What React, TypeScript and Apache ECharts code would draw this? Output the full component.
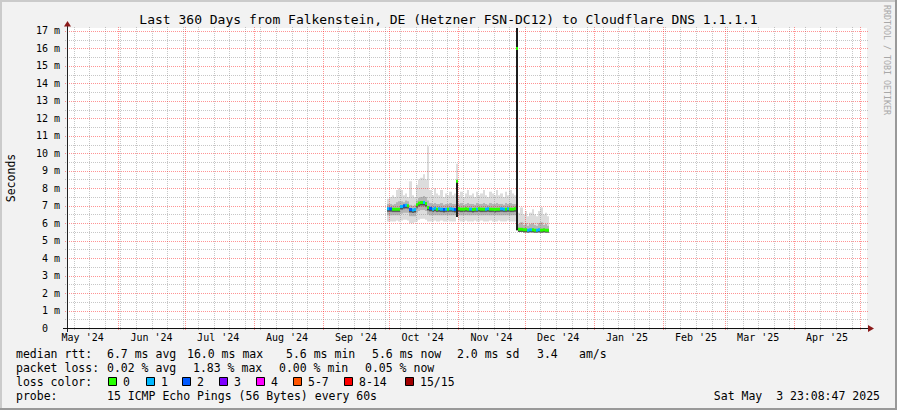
import React, { useEffect, useRef } from "react";
import * as echarts from "echarts";

const DAY = 86400000;
const RANGE_START = Date.UTC(2024, 4, 8, 23, 8, 47);
const RANGE_END = Date.UTC(2025, 4, 3, 23, 8, 47);
const Y_MAX = 17.17;

const monthStarts = ["2024-06-01", "2024-07-01", "2024-08-01", "2024-09-01", "2024-10-01", "2024-11-01", "2024-12-01", "2025-01-01", "2025-02-01", "2025-03-01", "2025-04-01", "2025-05-01"];
const monthLabels = ["May '24", "Jun '24", "Jul '24", "Aug '24", "Sep '24", "Oct '24", "Nov '24", "Dec '24", "Jan '25", "Feb '25", "Mar '25", "Apr '25"];
const monthLabelAt = ["2024-05-16", "2024-06-16", "2024-07-16", "2024-08-16", "2024-09-16", "2024-10-16", "2024-11-16", "2024-12-16", "2025-01-16", "2025-02-16", "2025-03-16", "2025-04-16"];
const firstSunday = "2024-05-12";

// daily smoke data, first day:
const dataStart = "2024-09-30";
const median = [
  6.82, 6.82, 6.8, 6.8, 6.8, 6.8, 6.95, 7.0, 7.02, 7.0,
  6.78, 6.75, 6.78, 7.05, 7.15, 7.18, 7.18, 7.12, 6.9, 6.85,
  6.8, 6.85, 6.8, 6.82, 6.8, 6.78, 6.8, 6.8, 6.82, 6.8,
  6.78, 8.4, 6.82, 6.8, 6.8, 6.82, 6.8, 6.8, 6.78, 6.8,
  6.8, 6.82, 6.8, 6.8, 6.8, 6.82, 6.8, 6.8, 6.78, 6.8,
  6.8, 6.82, 6.8, 6.8, 6.82, 6.8, 6.8, 6.82, 16.0, 5.65,
  5.65, 5.62, 5.62, 5.6, 5.62, 5.62, 5.6, 5.6, 5.62, 5.6,
  5.62, 5.6, 5.6,
];
const lossCount = [
  1, 2, 0, 0, 0, 0, 1, 2, 1, 0,
  2, 1, 1, 0, 0, 0, 1, 0, 0, 2,
  1, 1, 0, 1, 1, 2, 1, 0, 1, 1,
  2, 0, 0, 0, 0, 0, 0, 1, 0, 0,
  1, 0, 0, 0, 1, 1, 0, 0, 0, 0,
  0, 1, 1, 0, 1, 0, 0, 0, 0, 0,
  0, 0, 0, 1, 1, 0, 0, 1, 1, 0,
  0, 0, 0,
];
const smokeMax = [
  7.4, 7.5, 7.6, 7.5, 7.9, 8.0, 7.9, 7.6, 7.7, 7.5,
  8.4, 7.6, 7.5, 8.2, 8.5, 8.6, 8.8, 8.5, 10.4, 7.9,
  7.6, 8.0, 7.7, 7.6, 7.9, 7.5, 7.7, 7.6, 7.8, 7.6,
  7.7, 9.4, 7.6, 7.8, 7.5, 7.7, 7.9, 7.6, 7.7, 7.5,
  7.8, 7.6, 7.7, 7.9, 7.6, 7.5, 7.8, 7.7, 7.6, 7.9,
  7.6, 7.7, 7.5, 7.8, 7.6, 7.9, 7.7, 7.6, 17.3, 6.6,
  6.9, 6.5, 6.7, 6.4, 6.6, 6.8, 6.5, 6.4, 6.7, 6.9,
  6.5, 6.6, 6.4,
];
const smokeUpper = [
  7.1, 7.1, 7.05, 7.1, 7.2, 7.25, 7.25, 7.2, 7.3, 7.25,
  7.05, 7.0, 7.05, 7.3, 7.45, 7.5, 7.55, 7.5, 7.3, 7.15,
  7.1, 7.15, 7.1, 7.1, 7.15, 7.05, 7.1, 7.1, 7.15, 7.1,
  7.1, 8.0, 7.1, 7.15, 7.05, 7.1, 7.15, 7.1, 7.1, 7.05,
  7.15, 7.1, 7.1, 7.15, 7.1, 7.05, 7.15, 7.1, 7.1, 7.15,
  7.1, 7.1, 7.05, 7.15, 7.1, 7.15, 7.1, 7.1, 16.5, 5.95,
  6.05, 5.9, 6.0, 5.85, 5.95, 6.0, 5.9, 5.85, 6.0, 6.05,
  5.9, 5.95, 5.85,
];
const smokeLower = [
  6.45, 6.45, 6.45, 6.45, 6.45, 6.45, 6.55, 6.6, 6.6, 6.6,
  6.4, 6.4, 6.4, 6.6, 6.7, 6.75, 6.75, 6.7, 6.5, 6.45,
  6.45, 6.45, 6.45, 6.45, 6.45, 6.45, 6.45, 6.45, 6.45, 6.45,
  6.45, 6.4, 6.45, 6.45, 6.45, 6.45, 6.45, 6.45, 6.45, 6.45,
  6.45, 6.45, 6.45, 6.45, 6.45, 6.45, 6.45, 6.45, 6.45, 6.45,
  6.45, 6.45, 6.45, 6.45, 6.45, 6.45, 6.45, 6.45, 5.6, 5.55,
  5.55, 5.55, 5.55, 5.55, 5.55, 5.55, 5.55, 5.55, 5.55, 5.55,
  5.55, 5.55, 5.55,
];
const smokeMin = [
  6.1, 6.1, 6.1, 6.1, 6.15, 6.1, 6.15, 6.2, 6.2, 6.15,
  6.0, 6.0, 6.05, 6.1, 6.2, 6.25, 6.25, 6.2, 6.1, 6.1,
  6.1, 6.15, 6.1, 6.1, 6.15, 6.1, 6.1, 6.15, 6.1, 6.1,
  6.1, 6.35, 6.15, 6.1, 6.1, 6.15, 6.1, 6.1, 6.1, 6.15,
  6.1, 6.1, 6.15, 6.1, 6.1, 6.1, 6.15, 6.1, 6.1, 6.1,
  6.15, 6.1, 6.1, 6.1, 6.15, 6.1, 6.1, 6.1, 5.6, 5.5,
  5.5, 5.5, 5.5, 5.5, 5.5, 5.5, 5.5, 5.5, 5.5, 5.5,
  5.5, 5.5, 5.5,
];
// dense (dark) smoke columns
const denseDates = ["2024-10-31", "2024-11-27"];
const denseLo = [6.35, 5.6];
const denseHi = [8.4, 17.3];

const lossColors = ["#26ff00", "#00b8ff", "#0059ff", "#7e00ff", "#ff00ff", "#ff5500", "#ff0000", "#a10000"];
const lossLabels = ["0", "1", "2", "3", "4", "5-7", "8-14", "15/15"];

const titleText = "Last 360 Days from Falkenstein, DE (Hetzner FSN-DC12) to Cloudflare DNS 1.1.1.1";
const legendRow1 = ["median rtt:", "6.7 ms avg", "16.0 ms max", "5.6 ms min", "5.6 ms now", "2.0 ms sd", "3.4", "am/s"];
const legendRow2 = ["packet loss:", "0.02 % avg", "1.83 % max", "0.00 % min", "0.05 % now"];
const probeLabel = "probe:";
const probeText = "15 ICMP Echo Pings (56 Bytes) every 60s";
const dateText = "Sat May  3 23:08:47 2025";
const lossColorLabel = "loss color:";
const yTitle = "Seconds";
const watermark = "RRDTOOL / TOBI OETIKER";

// layout (pixels)
const row1X = [16, 107, 187, 286, 372, 457, 537, 579];
const row2X = [16, 107, 193, 279, 365];
const boxX = [108, 146, 182, 219, 256, 293, 344, 405];
const ROW_Y = [354, 368, 382, 396];

const MONO = '"DejaVu Sans Mono", monospace';
const MAJOR = "rgba(255,0,0,0.42)";
const MINOR = "rgba(130,130,130,0.45)";

const toT = (s: string) => Date.parse(s + "T00:00:00Z");
const nb = (s: string) => s.replace(/ /g, "\u00a0");

function txt(x: number, y: number, text: string, size: number, align = "left", extra: any = {}) {
  return {
    type: "text",
    x,
    y,
    z: 100,
    ...extra,
    style: {
      text: nb(text),
      font: `${size}px ${MONO}`,
      fill: extra.fill || "#000",
      align,
      verticalAlign: "middle",
      textAlign: align,
      textVerticalAlign: "middle",
    },
  };
}

export default function App() {
  const ref = useRef<HTMLDivElement>(null);

  useEffect(() => {
    const chart = echarts.init(ref.current!, null, { renderer: "svg" });

    const t0 = toT(dataStart);
    const smokeData = median.map((m, i) => [t0 + i * DAY, smokeMin[i], smokeLower[i], smokeUpper[i], smokeMax[i], m, lossCount[i]]);
    const denseData = denseDates.map((d, i) => [toT(d), denseLo[i], denseHi[i]]);

    const monthSet = new Set(monthStarts.map(toT));
    const vLines: number[][] = [];
    for (let t = toT(firstSunday); t < RANGE_END; t += 7 * DAY) {
      if (!monthSet.has(t)) vLines.push([t, 0]);
    }
    monthStarts.forEach((m) => vLines.push([toT(m), 1]));

    const hLines: number[][] = [];
    for (let k = 1; k <= 34; k++) {
      const v = k / 2;
      if (k % 2 === 1) hLines.push([v, 0]);
    }
    for (let k = 1; k <= 17; k++) hLines.push([k, 1]);

    const graphic: any[] = [];
    // borders
    graphic.push({ type: "line", z: 100, shape: { x1: 0, y1: 1, x2: 897, y2: 1 }, style: { stroke: "#cbcbcb", lineWidth: 2 } });
    graphic.push({ type: "line", z: 100, shape: { x1: 1, y1: 0, x2: 1, y2: 410 }, style: { stroke: "#cbcbcb", lineWidth: 2 } });
    graphic.push({ type: "line", z: 100, shape: { x1: 896, y1: 0, x2: 896, y2: 410 }, style: { stroke: "#999999", lineWidth: 2 } });
    graphic.push({ type: "line", z: 100, shape: { x1: 0, y1: 409, x2: 897, y2: 409 }, style: { stroke: "#999999", lineWidth: 2 } });
    // axes
    graphic.push({ type: "line", z: 100, shape: { x1: 67.5, y1: 332, x2: 67.5, y2: 24 }, style: { stroke: "#222", lineWidth: 1 } });
    graphic.push({ type: "line", z: 100, shape: { x1: 63, y1: 328.5, x2: 870, y2: 328.5 }, style: { stroke: "#111", lineWidth: 1 } });
    graphic.push({ type: "polygon", z: 101, shape: { points: [[64, 26.5], [71, 26.5], [67.5, 21]] }, style: { fill: "#8b1a1a" } });
    graphic.push({ type: "polygon", z: 101, shape: { points: [[868, 325], [868, 332], [874, 328.5]] }, style: { fill: "#8b1a1a" } });
    // title & labels
    graphic.push(txt(448.5, 19, titleText, 13, "center"));
    graphic.push(txt(10.5, 178, yTitle, 11.5, "center", { rotation: Math.PI / 2 }));
    graphic.push(txt(886.5, 5, watermark, 8.3, "left", { rotation: -Math.PI / 2, fill: "#a8a8a8" }));
    legendRow1.forEach((s, i) => graphic.push(txt(row1X[i], ROW_Y[0], s, 11.5)));
    legendRow2.forEach((s, i) => graphic.push(txt(row2X[i], ROW_Y[1], s, 11.5)));
    graphic.push(txt(16, ROW_Y[2], lossColorLabel, 11.5));
    lossLabels.forEach((s, i) => {
      graphic.push({ type: "rect", z: 100, shape: { x: boxX[i] + 0.5, y: ROW_Y[2] - 4.5, width: 8, height: 8 }, style: { fill: lossColors[i], stroke: "#000", lineWidth: 1 } });
      graphic.push(txt(boxX[i] + 15, ROW_Y[2], s, 11.5));
    });
    graphic.push(txt(16, ROW_Y[3], probeLabel, 11.5));
    graphic.push(txt(107, ROW_Y[3], probeText, 11.5));
    graphic.push(txt(880, ROW_Y[3], dateText, 11.5, "right"));

    const option: any = {
      animation: false,
      backgroundColor: "#f2f2f2",
      grid: { left: 67, top: 28, width: 800, height: 300, show: true, backgroundColor: "#ffffff", borderWidth: 0 },
      xAxis: { type: "value", min: RANGE_START, max: RANGE_END, show: false },
      yAxis: {
        type: "value",
        min: 0,
        max: Y_MAX,
        interval: 1,
        axisLine: { show: false },
        axisTick: { show: false },
        splitLine: { show: false },
        axisLabel: {
          margin: 7,
          fontFamily: MONO,
          fontSize: 10,
          color: "#000",
          formatter: (v: number) => (v > 17.05 ? "" : v === 0 ? "0\u00a0\u00a0" : `${v}\u00a0m`),
        },
      },
      graphic: { elements: graphic },
      series: [
        {
          type: "custom",
          name: "smoke",
          z: 1,
          clip: true,
          data: smokeData,
          renderItem: (_p: any, api: any) => {
            const t = api.value(0);
            const lo = api.value(1), q1 = api.value(2), q3 = api.value(3), hi = api.value(4), med = api.value(5);
            const xa = Math.round(api.coord([t, 0])[0]);
            const xb = Math.round(api.coord([t + DAY, 0])[0]);
            const Y = (v: number) => api.coord([t, Math.min(v, Y_MAX)])[1];
            const r = (a: number, b: number, fill: string) => ({
              type: "rect",
              shape: { x: xa, y: Y(b), width: xb - xa, height: Y(a) - Y(b) },
              style: { fill },
            });
            return {
              type: "group",
              children: [r(lo, hi, "#dcdcdc"), r(q1, q3, "#b4b4b4"), r((q1 + med) / 2, med, "#8a8a8a"), r(med - 0.15, med, "#505050")],
            };
          },
        },
        {
          type: "custom",
          name: "vgrid",
          z: 2,
          data: vLines,
          renderItem: (_p: any, api: any) => {
            const t = api.value(0);
            const major = api.value(1);
            const p0 = api.coord([t, 0]);
            const p1 = api.coord([t, Y_MAX]);
            const x = Math.round(p0[0]) + 0.5;
            return {
              type: "line",
              shape: { x1: x, y1: p0[1] + 2, x2: x, y2: p1[1] - 2 },
              style: { stroke: major ? MAJOR : MINOR, lineWidth: 1, lineDash: [1, 1] },
            };
          },
        },
        {
          type: "custom",
          name: "hgrid",
          z: 2,
          data: hLines,
          renderItem: (_p: any, api: any) => {
            const v = api.value(0);
            const major = api.value(1);
            const a = api.coord([RANGE_START, v]);
            const b = api.coord([RANGE_END, v]);
            const y = Math.round(a[1]) + 0.5;
            return {
              type: "line",
              shape: { x1: a[0] - 2, y1: y, x2: b[0] + 2, y2: y },
              style: { stroke: major ? MAJOR : MINOR, lineWidth: 1, lineDash: [1, 1] },
            };
          },
        },
        {
          type: "custom",
          name: "dense",
          z: 3,
          clip: true,
          data: denseData,
          renderItem: (_p: any, api: any) => {
            const t = api.value(0);
            const xa = Math.round(api.coord([t, 0])[0]);
            const xb = Math.round(api.coord([t + DAY, 0])[0]);
            const ya = api.coord([t, api.value(1)])[1];
            const yb = api.coord([t, Math.min(api.value(2), Y_MAX)])[1];
            return { type: "rect", shape: { x: xa, y: yb, width: xb - xa, height: ya - yb }, style: { fill: "#1c1c1c" } };
          },
        },
        {
          type: "custom",
          name: "median",
          z: 4,
          clip: true,
          data: smokeData,
          renderItem: (_p: any, api: any) => {
            const t = api.value(0);
            const med = api.value(5);
            const loss = api.value(6);
            const xa = Math.round(api.coord([t, 0])[0]);
            const xb = Math.round(api.coord([t + DAY, 0])[0]);
            const y = api.coord([t, med])[1];
            return { type: "rect", shape: { x: xa, y: y - 1.5, width: xb - xa, height: 3 }, style: { fill: lossColors[loss] } };
          },
        },
        {
          type: "custom",
          name: "xlabels",
          z: 5,
          data: monthLabelAt.map((d, i) => [toT(d), i]),
          renderItem: (_p: any, api: any) => {
            const t = api.value(0);
            const i = api.value(1);
            const p = api.coord([t, 0]);
            return {
              type: "text",
              x: p[0],
              y: p[1] + 9.5,
              style: {
                text: monthLabels[i],
                font: `10px ${MONO}`,
                fill: "#000",
                align: "center",
                verticalAlign: "middle",
                textAlign: "center",
                textVerticalAlign: "middle",
              },
            };
          },
        },
      ],
    };

    chart.setOption(option);
    return () => chart.dispose();
  }, []);

  return <div ref={ref} style={{ position: "absolute", left: 0, top: 0, width: 897, height: 410 }} />;
}
